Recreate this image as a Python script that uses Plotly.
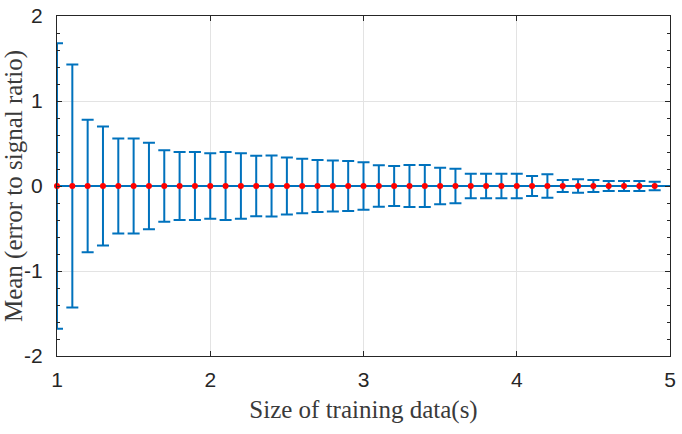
import plotly.graph_objects as go

x_vals = [round(1.0 + 0.1 * i, 1) for i in range(40)]
mean_vals = [0.0] * 40
err_vals = [1.68, 1.43, 0.78, 0.70, 0.56, 0.56, 0.51, 0.42, 0.40, 0.40,
            0.385, 0.40, 0.385, 0.355, 0.36, 0.335, 0.32, 0.305, 0.30, 0.295,
            0.28, 0.245, 0.235, 0.247, 0.247, 0.216, 0.204, 0.145, 0.145, 0.145,
            0.145, 0.118, 0.137, 0.07, 0.078, 0.07, 0.059, 0.059, 0.059, 0.05]
ref_x = [1, 5]
ref_y = [0, 0]
y_ticks = [-2, -1, 0, 1, 2]
y_tick_text = ["-2", "-1", "0", "1", "2"]
x_ticks = [1, 2, 3, 4, 5]

blue = "#0072BD"
fig = go.Figure()
fig.add_trace(go.Scatter(x=ref_x, y=ref_y, mode="lines",
                         line=dict(color=blue, width=2), showlegend=False, hoverinfo="skip"))
fig.add_trace(go.Scatter(
    x=x_vals, y=mean_vals, mode="lines+markers",
    line=dict(color=blue, width=2),
    marker=dict(color="red", size=6),
    error_y=dict(type="data", array=err_vals, symmetric=True,
                 color=blue, thickness=2, width=6),
    cliponaxis=False,
    showlegend=False))

axis_common = dict(
    showline=True, linecolor="#262626", linewidth=1, mirror="ticks",
    ticks="inside", ticklen=5, tickcolor="#262626", automargin=False,
    showgrid=True, gridcolor="#e3e3e3", gridwidth=1, zeroline=False,
    tickfont=dict(family="Liberation Sans, Arial", size=21, color="#262626"),
)
title_font = dict(family="Liberation Serif, Times New Roman", size=25, color="#3a3a3a")
fig.update_xaxes(range=[1, 5], tickvals=x_ticks, ticklabelstandoff=5,
                 title=dict(text="Size of training data(s)", standoff=10, font=title_font),
                 **axis_common)
fig.update_yaxes(range=[-2, 2], tickvals=y_ticks, ticktext=y_tick_text, ticklabelstandoff=9,
                 minor=dict(ticks="inside", ticklen=3, dtick=0.2, tick0=0, tickcolor="#262626", showgrid=False),
                 title=dict(text="Mean (error to signal ratio)", standoff=0, font=title_font),
                 **axis_common)
fig.update_layout(width=682, height=434, margin=dict(l=57, r=12, t=16, b=78),
                  plot_bgcolor="white", paper_bgcolor="white")
fig.write_html("out.html")
